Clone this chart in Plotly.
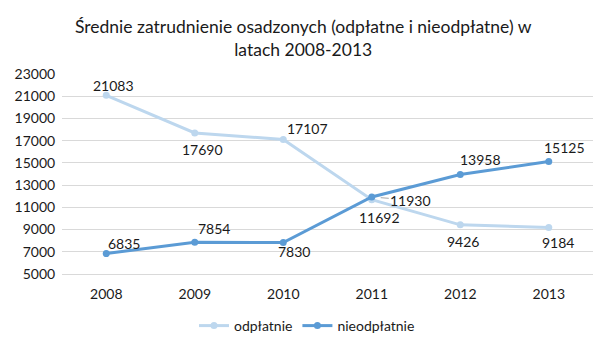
import plotly.graph_objects as go

years = ["2008", "2009", "2010", "2011", "2012", "2013"]
odplatnie = [21083, 17690, 17107, 11692, 9426, 9184]
nieodplatnie = [6835, 7854, 7830, 11930, 13958, 15125]
y_ticks = list(range(5000, 23001, 2000))

# label offsets in pixels (dx right, dy down) for data labels
odp_off = [(7, -10), (8, 16), (24, -11), (8, 18), (3, 17), (9, 15)]
nieodp_off = [(18, -10), (19, -14), (11, 9), (39, 3), (20, -15), (16, -14)]
leader = [False, False, False, True, False, False]

FONT = "Lato, Open Sans, sans-serif"
TXT = "#1a1a1a"

L, R, T, B = 62, 15, 74, 71
PW = 608 - L - R

fig = go.Figure()
fig.add_trace(go.Scatter(
    x=years, y=odplatnie, name="odpłatnie", mode="lines+markers",
    line=dict(color="#BDD7EE", width=3), marker=dict(size=7, color="#BDD7EE"),
))
fig.add_trace(go.Scatter(
    x=years, y=nieodplatnie, name="nieodpłatnie", mode="lines+markers",
    line=dict(color="#5B9BD5", width=3), marker=dict(size=7, color="#5B9BD5"),
))

annotations = [dict(
    text="Średnie zatrudnienie osadzonych (odpłatne i nieodpłatne) w<br>latach 2008-2013",
    xref="paper", yref="paper", x=(303 - L) / PW, xanchor="center",
    y=1.0 + (T - 36) / 209, yanchor="middle", showarrow=False,
    font=dict(size=17.5, color=TXT, family=FONT),
)]

def add_labels(values, offsets, leaders=None):
    for i, v in enumerate(values):
        dx, dy = offsets[i]
        if leaders and leaders[i]:
            annotations.append(dict(
                x=i, y=v, xref="x", yref="y", text=str(v), showarrow=True,
                ax=dx, ay=dy, arrowhead=0,
                arrowwidth=1, arrowcolor="#A6A6A6", standoff=9,
                font=dict(size=14, color=TXT, family=FONT),
            ))
        else:
            annotations.append(dict(
                x=i, y=v, xref="x", yref="y", text=str(v), showarrow=False,
                xshift=dx, yshift=-dy, xanchor="center", yanchor="middle",
                font=dict(size=14, color=TXT, family=FONT),
            ))

add_labels(odplatnie, odp_off)
add_labels(nieodplatnie, nieodp_off, leader)

fig.update_layout(
    width=608, height=354,
    margin=dict(l=L, r=R, t=T, b=B),
    paper_bgcolor="white", plot_bgcolor="white",
    font=dict(family=FONT, size=14, color=TXT),
    annotations=annotations,
    xaxis=dict(
        type="category", range=[-0.5, 5.5], showgrid=False,
        showline=True, linecolor="#D9D9D9", linewidth=1,
        ticks="outside", ticklen=7, tickcolor="rgba(0,0,0,0)",
        tickfont=dict(size=14), zeroline=False,
    ),
    yaxis=dict(
        range=[5000, 23000], tickvals=y_ticks, ticktext=[str(v) for v in y_ticks],
        showgrid=True, gridcolor="#D9D9D9", gridwidth=1, zeroline=False,
        ticks="outside", ticklen=3, tickcolor="rgba(0,0,0,0)",
        tickfont=dict(size=14), showline=False,
    ),
    legend=dict(
        orientation="h", x=(307 - L) / PW, xanchor="center", y=-0.18, yanchor="top",
        font=dict(size=14), itemwidth=30,
    ),
)

fig.write_html("out.html")
